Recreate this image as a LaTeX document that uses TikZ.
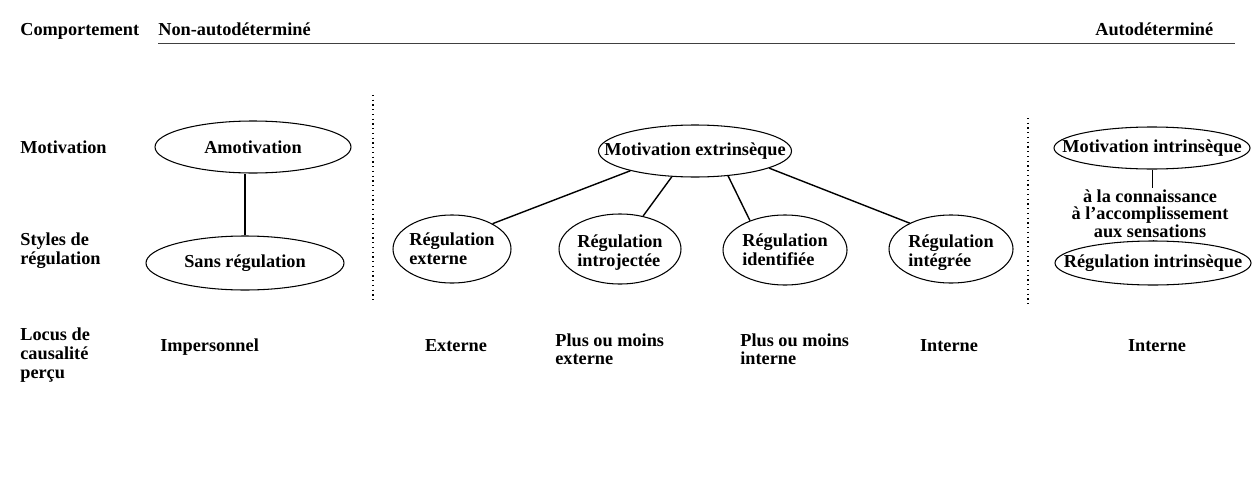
\documentclass[tikz,border=0pt]{standalone}
\usepackage{fontspec}
\setmainfont{Liberation Serif}
\usetikzlibrary{shapes.geometric}

\tikzset{
  ovale/.style={draw, ellipse, inner sep=0pt, line width=0.6pt},
  texte/.style={anchor=base west, inner sep=0pt, align=left},
  lien/.style={line width=0.8pt},
  separateur/.style={dotted, line width=0.7pt},
}

\begin{document}
\begin{tikzpicture}[font=\fontsize{10.4}{10.8}\selectfont\bfseries]
    \useasboundingbox (0,0) rectangle (25.04,9.72);
    % en-tete
    \node[texte] (comp) at (0.40,9.0) {Comportement};
    \node[texte] (nonauto) at (3.16,9.0) {Non-autodéterminé};
    \node[texte] (auto) at (21.90,9.0) {Autodéterminé};
    \draw[line width=0.5pt, black!75] (3.16,8.86) -- (24.70,8.86);
    % lignes du tableau
    \node[texte] (lmotiv) at (0.40,6.66) {Motivation};
    \node[texte] (lstyles) at (0.40,4.44) {Styles de\\régulation};
    \node[texte] (llocus) at (0.40,2.16) {Locus de\\causalité\\perçu};
    % separations
    \draw[separateur] (7.46,7.82) -- (7.46,3.72);
    \draw[separateur] (20.56,7.36) -- (20.56,3.62);
    % non-autodetermine
    \node[ovale, minimum width=3.92cm, minimum height=1.04cm,
      label=center:Amotivation] (amot) at (5.06,6.78) {};
    \node[ovale, minimum width=3.96cm, minimum height=1.08cm,
      label=center:Sans régulation] (sansreg) at (4.90,4.46) {};
    \draw[lien] (sansreg.north) -- (sansreg.north |- amot.south);
    % motivation extrinseque
    \node[ovale, minimum width=3.86cm, minimum height=1.04cm,
      label=center:Motivation extrinsèque] (mext) at (13.90,6.70) {};
    \node[ovale, minimum width=2.36cm, minimum height=1.36cm,
      label={[align=left]center:{Régulation\\externe}}] (rext) at (9.04,4.74) {};
    \node[ovale, minimum width=2.44cm, minimum height=1.40cm,
      label={[align=left, yshift=-0.08cm]center:{Régulation\\introjectée}}] (rintro) at (12.40,4.74) {};
    \node[ovale, minimum width=2.48cm, minimum height=1.40cm,
      label={[align=left]center:{Régulation\\identifiée}}] (rident) at (15.70,4.72) {};
    \node[ovale, minimum width=2.48cm, minimum height=1.36cm,
      label={[align=left, yshift=-0.08cm]center:{Régulation\\intégrée}}] (rinteg) at (19.02,4.74) {};
    \draw[lien] (mext.197) -- (rext.32);
    \draw[lien] (mext.228) -- (rintro.55);
    \draw[lien] (mext.-37) -- (rident.140);
    \draw[lien] (mext.-13) -- (rinteg.148);
    % motivation intrinseque
    \node[ovale, minimum width=3.92cm, minimum height=0.84cm,
      label=center:Motivation intrinsèque] (mint) at (23.04,6.76) {};
    \node[ovale, minimum width=3.92cm, minimum height=0.88cm,
      label=center:Régulation intrinsèque] (rintr) at (23.06,4.46) {};
    \node[align=center, inner sep=1pt, font=\fontsize{10.4}{9.4}\selectfont\bfseries] (sens) at (23.0,5.44)
      {à la connaissance\\à l'accomplissement\\aux sensations};
    \draw[line width=0.4pt] (mint.south) -- (mint.south |- sens.north);
    \draw[line width=0.4pt] (sens.south -| rintr.north) -- (rintr.north);
    % locus de causalite
    \node[texte] (impers) at (3.20,2.70) {Impersonnel};
    \node[anchor=base, inner sep=0pt] (lext) at (9.12,2.70) {Externe};
    \node[texte, font=\fontsize{10.4}{10.2}\selectfont\bfseries] (pmext) at (11.10,2.44) {Plus ou moins\\externe};
    \node[texte, font=\fontsize{10.4}{10.2}\selectfont\bfseries] (pmint) at (14.80,2.44) {Plus ou moins\\interne};
    \node[anchor=base, inner sep=0pt] (linteg) at (18.98,2.70) {Interne};
    \node[anchor=base, inner sep=0pt] (lintr) at (23.14,2.70) {Interne};
\end{tikzpicture}
\end{document}
